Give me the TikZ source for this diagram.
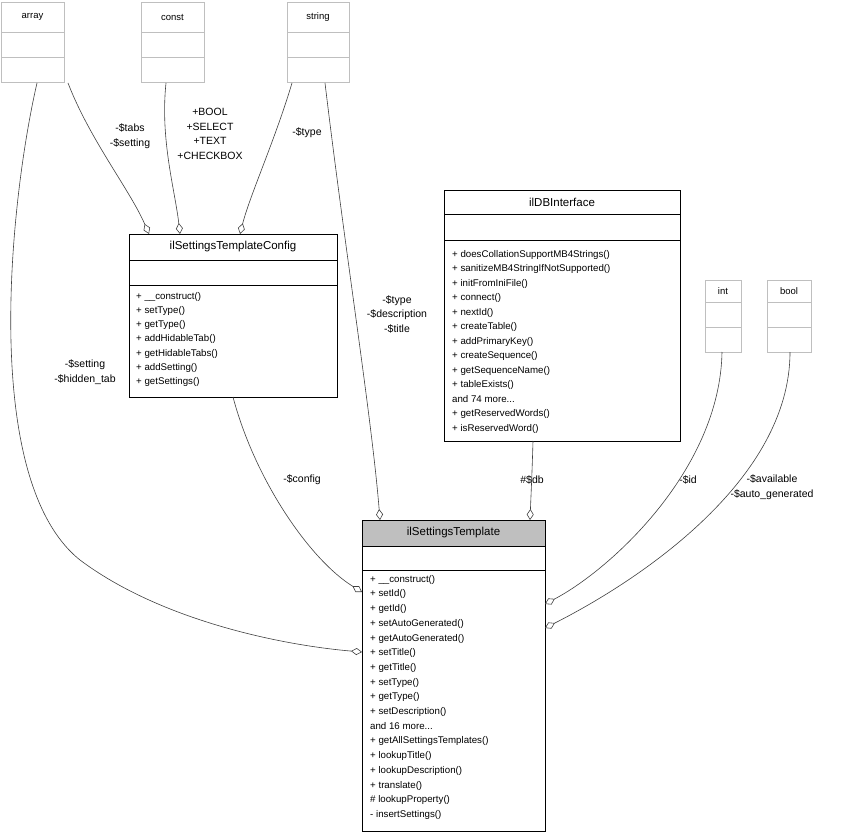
\documentclass[tikz,border=0pt]{standalone}
\usepackage{fontspec}
\setmainfont{Liberation Sans}
\usetikzlibrary{arrows.meta}
\definecolor{lg}{HTML}{BFBFBF}
\begin{document}
\begin{tikzpicture}[x=1pt,y=-1pt,
  box/.style={draw,anchor=north west,inner sep=0,outer sep=0},
  gbox/.style={box,draw=lg},
  tx/.style={font=\fontsize{9.5}{11}\selectfont,inner sep=0},
  ttl/.style={font=\fontsize{11.5}{13}\selectfont,inner sep=0},
  lst/.style={tx,anchor=north west,align=left},
  lab/.style={inner sep=0,align=center,font=\fontsize{10.5}{14.5}\selectfont},
  agg/.style={-{Diamond[open,length=11pt,width=7pt]},line width=0.6pt,draw=black!75}]
\useasboundingbox (0,0) rectangle (845,837);
% array
\node[gbox,minimum width=63,minimum height=30] (arrT) at (1,2) {};
\node[tx] at (arrT.center) {array};
\node[gbox,minimum width=63,minimum height=25] (arrE) at (1,32) {};
\node[gbox,minimum width=63,minimum height=25] (arrM) at (1,57) {};
% const
\node[gbox,minimum width=63,minimum height=30] (conT) at (141,2) {};
\node[tx] at (conT.center) {const};
\node[gbox,minimum width=63,minimum height=25] (conE) at (141,32) {};
\node[gbox,minimum width=63,minimum height=25] (conM) at (141,57) {};
% string
\node[gbox,minimum width=62,minimum height=30] (strT) at (287,2) {};
\node[tx] at (strT.center) {string};
\node[gbox,minimum width=62,minimum height=25] (strE) at (287,32) {};
\node[gbox,minimum width=62,minimum height=25] (strM) at (287,57) {};
% int
\node[gbox,minimum width=36,minimum height=22] (intT) at (705,280) {};
\node[tx] at (intT.center) {int};
\node[gbox,minimum width=36,minimum height=25] (intE) at (705,302) {};
\node[gbox,minimum width=36,minimum height=25] (intM) at (705,327) {};
% bool
\node[gbox,minimum width=44,minimum height=22] (boolT) at (767,280) {};
\node[tx] at (boolT.center) {bool};
\node[gbox,minimum width=44,minimum height=25] (boolE) at (767,302) {};
\node[gbox,minimum width=44,minimum height=25] (boolM) at (767,327) {};
% config
\node[box,minimum width=208,minimum height=26] (cfgT) at (129,234) {};
\node[ttl] at (cfgT.center) {ilSettingsTemplateConfig};
\node[box,minimum width=208,minimum height=25] (cfgE) at (129,260) {};
\node[box,minimum width=208,minimum height=112] (cfgM) at (129,285) {};
\node[lst,font=\fontsize{9.7}{14.2}\selectfont] at (136,292) {+ \_\_construct()\\+ setType()\\+ getType()\\+ addHidableTab()\\+ getHidableTabs()\\+ addSetting()\\+ getSettings()};
% db
\node[box,minimum width=236,minimum height=24] (dbT) at (444,190) {};
\node[ttl] at (dbT.center) {ilDBInterface};
\node[box,minimum width=236,minimum height=26] (dbE) at (444,214) {};
\node[box,minimum width=236,minimum height=201] (dbM) at (444,240) {};
\node[lst,font=\fontsize{9.7}{14.5}\selectfont] at (452,250) {+ doesCollationSupportMB4Strings()\\+ sanitizeMB4StringIfNotSupported()\\+ initFromIniFile()\\+ connect()\\+ nextId()\\+ createTable()\\+ addPrimaryKey()\\+ createSequence()\\+ getSequenceName()\\+ tableExists()\\and 74 more...\\+ getReservedWords()\\+ isReservedWord()};
% template
\node[box,fill=lg,minimum width=183,minimum height=26] (tplT) at (362,520) {};
\node[ttl] at (tplT.center) {ilSettingsTemplate};
\node[box,minimum width=183,minimum height=24] (tplE) at (362,546) {};
\node[box,minimum width=183,minimum height=261] (tplM) at (362,570) {};
\node[lst,font=\fontsize{9.7}{14.7}\selectfont] at (370,575) {+ \_\_construct()\\+ setId()\\+ getId()\\+ setAutoGenerated()\\+ getAutoGenerated()\\+ setTitle()\\+ getTitle()\\+ setType()\\+ getType()\\+ setDescription()\\and 16 more...\\+ getAllSettingsTemplates()\\+ lookupTitle()\\+ lookupDescription()\\+ translate()\\\# lookupProperty()\\- insertSettings()};
% edges
\coordinate (a1) at (37,83); \coordinate (a1e) at (362,652);
\draw[agg] (a1) .. controls (10,200) and (-20,480) .. (80,560) .. controls (160,620) and (280,645) .. (a1e);
\node[lab] at (85,372) {-\$setting\\-\$hidden\_tab};
\draw[agg] (68,83) .. controls (90,140) and (130,190) .. (149,234);
\node[lab] at (130,136) {-\$tabs\\-\$setting};
\draw[agg] (166,83) .. controls (160,140) and (175,190) .. (180,234);
\node[lab] at (210,134) {+BOOL\\+SELECT\\+TEXT\\+CHECKBOX};
\draw[agg] (292,83) .. controls (275,140) and (250,195) .. (240,234);
\node[lab] at (307,133) {-\$type};
\draw[agg] (325,83) .. controls (345,250) and (372,420) .. (380,520);
\node[lab] at (397,314) {-\$type\\-\$description\\-\$title};
\draw[agg] (233,397) .. controls (255,480) and (310,560) .. (362,592);
\node[lab] at (302,480) {-\$config};
\draw[agg] (533,441) .. controls (532,475) and (531,495) .. (530,520);
\node[lab] at (532,480) {\#\$db};
\draw[agg] (722,352) .. controls (720,470) and (610,570) .. (545,604);
\node[lab] at (688,480) {-\$id};
\draw[agg] (790,352) .. controls (790,480) and (640,580) .. (545,628);
\node[lab] at (772,487) {-\$available\\-\$auto\_generated};
\end{tikzpicture}
\end{document}
